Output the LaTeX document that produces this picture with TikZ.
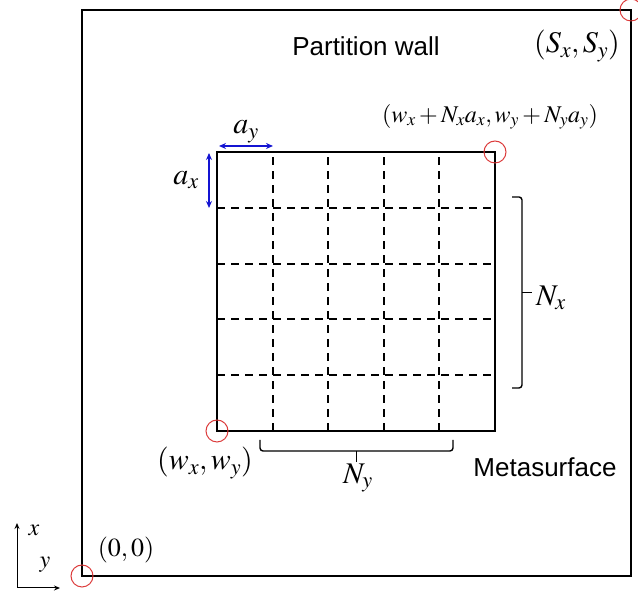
\documentclass[tikz,border=0pt]{standalone}
\usepackage{mathptmx}
\usepackage{fontspec}
\setmainfont{Liberation Serif}
\setsansfont{Liberation Sans}
\usetikzlibrary{arrows.meta}

\definecolor{markred}{RGB}{220,60,60}
\definecolor{dimblue}{RGB}{20,20,210}

\tikzset{
  wall/.style={line width=1.6pt},
  metabox/.style={line width=2.2pt},
  cellline/.style={dash pattern=on 8pt off 6pt,line width=2pt},
  corner/.style={circle,draw=markred,line width=1pt,minimum size=22pt,inner sep=0pt},
  dimline/.style={{Stealth[length=7pt,width=6pt]}-{Stealth[length=7pt,width=6pt]},draw=dimblue,line width=1.4pt},
  axisline/.style={-{Stealth[length=6pt,width=5pt]},line width=1pt},
  bracemark/.style={line width=1.4pt,rounded corners=3pt},
  sanslbl/.style={font=\sffamily\fontsize{26}{30}\selectfont},
  mathlbl/.style={font=\fontsize{30}{34}\selectfont},
  smalllbl/.style={font=\fontsize{24}{28}\selectfont},
  originlbl/.style={font=\fontsize{26}{30}\selectfont}
}

\begin{document}
\begin{tikzpicture}[x=1pt,y=1pt]

\useasboundingbox (0,0) rectangle (638,596);

\draw[wall]
(82,20)
rectangle
(631,586);

\draw[metabox]
(217,165)
rectangle
(495,444);

\foreach \k in {1,...,4}
{
\draw[cellline] ({217+round(\k*55.6)},165) -- ({217+round(\k*55.6)},444);
\draw[cellline] (217,{165+round(\k*55.8)}) -- (495,{165+round(\k*55.8)});
}

\node[corner]
(O)
at (82,20)
{};

\node[corner]
(S)
at (631,586)
{};

\node[corner]
(W)
at (217,165)
{};

\node[corner]
(E)
at (495,444)
{};

\node[sanslbl]
(wall)
at (366,550)
{Partition wall};

\node[mathlbl]
(Slbl)
at (577,550)
{$(S_x,S_y)$};

\node[smalllbl]
(Elbl)
at (490,479)
{$(w_x+N_xa_x,w_y+N_ya_y)$};

\node[mathlbl]
(Wlbl)
at (205,133)
{$(w_x,w_y)$};

\node[sanslbl]
(meta)
at (545,129)
{Metasurface};

\node[originlbl]
(Olbl)
at (126,46)
{$(0,0)$};

\coordinate (ay0) at (219,450);
\coordinate (ay1) at (273,450);
\draw[dimline]
(ay0)
--
(ay1);

\node[mathlbl]
(aylbl)
at (246,464)
{$a_y$};

\coordinate (ax0) at (209,443);
\coordinate (ax1) at (209,388);
\draw[dimline]
(ax0)
--
(ax1);

\node[mathlbl]
(axlbl)
at (186,416)
{$a_x$};

\coordinate (by0) at (260,156);
\coordinate (by1) at (453,156);
\coordinate (bytip) at (356.5,145);
\draw[bracemark]
(by0)
-- ++(0,-11)
-- ++(193,0)
--
(by1);
\draw[bracemark]
(bytip)
-- ++(0,-11);

\node[mathlbl]
(Nylbl)
at (358,118)
{$N_y$};

\coordinate (bx0) at (512,399);
\coordinate (bx1) at (512,208);
\coordinate (bxtip) at (522,303.5);
\draw[bracemark]
(bx0)
-- ++(10,0)
-- ++(0,-191)
--
(bx1);
\draw[bracemark]
(bxtip)
-- ++(10,0);

\node[mathlbl]
(Nxlbl)
at (551,298)
{$N_x$};

\coordinate (orig) at (17,8);
\coordinate (xend) at (17,73);
\coordinate (yend) at (60,8);
\draw[axisline]
(orig)
--
(xend);
\draw[axisline]
(orig)
--
(yend);

\node[smalllbl]
(xlbl)
at (34,66)
{$x$};

\node[smalllbl]
(ylbl)
at (45,31)
{$y$};

\end{tikzpicture}
\end{document}
